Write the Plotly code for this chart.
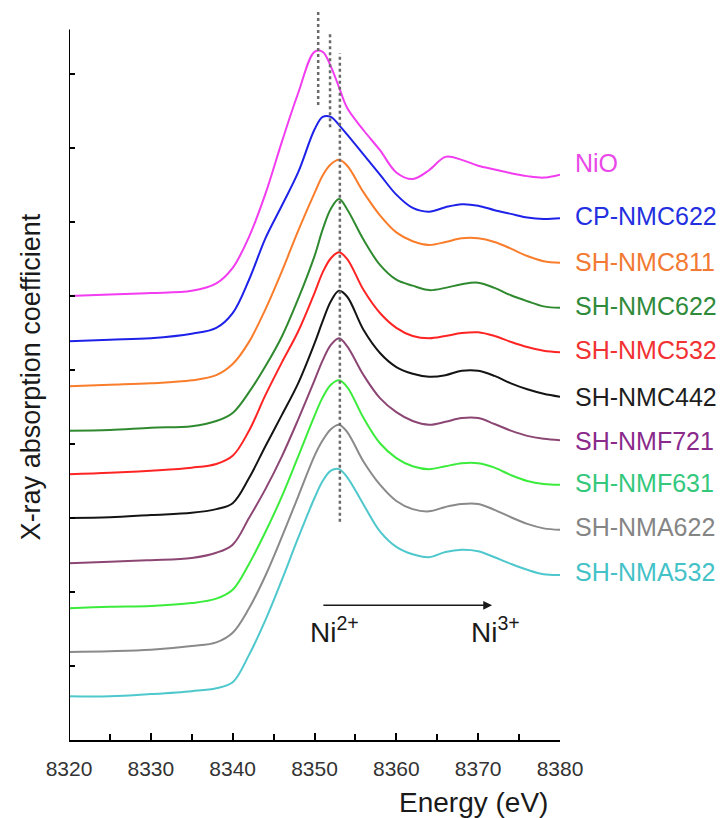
import plotly.graph_objects as go

# ---------------- data ----------------
energy = [8320, 8325, 8330, 8335, 8338, 8340, 8342, 8344, 8346, 8348, 8350, 8351, 8352, 8353,
          8354, 8356, 8358, 8360, 8362, 8364, 8366, 8368, 8370, 8372, 8374, 8376, 8378, 8380]

nio = [6.00, 6.02, 6.04, 6.07, 6.17, 6.38, 6.80, 7.38, 8.08, 8.74, 9.30, 9.30, 9.10, 8.82,
       8.54, 8.24, 7.97, 7.67, 7.58, 7.70, 7.88, 7.84, 7.76, 7.71, 7.66, 7.62, 7.60, 7.64]
cp_nmc622 = [5.39, 5.41, 5.43, 5.49, 5.57, 5.77, 6.22, 6.78, 7.22, 7.67, 8.25, 8.42, 8.42, 8.31,
             8.18, 7.91, 7.64, 7.37, 7.19, 7.14, 7.20, 7.24, 7.22, 7.16, 7.11, 7.06, 7.04, 7.05]
sh_nmc811 = [4.78, 4.80, 4.82, 4.86, 4.93, 5.08, 5.38, 5.82, 6.33, 6.88, 7.39, 7.63, 7.78, 7.84,
             7.76, 7.40, 7.09, 6.86, 6.74, 6.69, 6.73, 6.78, 6.78, 6.73, 6.64, 6.54, 6.47, 6.45]
sh_nmc622 = [4.18, 4.19, 4.22, 4.24, 4.31, 4.42, 4.70, 5.05, 5.45, 5.96, 6.54, 6.90, 7.18, 7.31,
             7.17, 6.76, 6.42, 6.22, 6.14, 6.08, 6.11, 6.16, 6.18, 6.11, 6.01, 5.93, 5.86, 5.84]
sh_nmc532 = [3.59, 3.61, 3.64, 3.68, 3.73, 3.84, 4.18, 4.66, 5.10, 5.52, 6.04, 6.32, 6.51, 6.59,
             6.50, 6.08, 5.77, 5.57, 5.46, 5.43, 5.46, 5.50, 5.51, 5.46, 5.38, 5.31, 5.26, 5.24]
sh_nmc442 = [3.00, 3.01, 3.04, 3.07, 3.12, 3.20, 3.54, 3.97, 4.39, 4.82, 5.36, 5.66, 5.93, 6.07,
             5.99, 5.54, 5.23, 5.04, 4.95, 4.91, 4.93, 4.99, 4.99, 4.92, 4.82, 4.74, 4.68, 4.64]
sh_nmf721 = [2.39, 2.41, 2.43, 2.46, 2.53, 2.64, 3.00, 3.39, 3.83, 4.33, 4.86, 5.13, 5.34, 5.43,
             5.32, 4.93, 4.62, 4.43, 4.31, 4.26, 4.30, 4.35, 4.35, 4.27, 4.18, 4.11, 4.07, 4.05]
sh_nmf631 = [1.78, 1.80, 1.81, 1.85, 1.91, 2.03, 2.38, 2.81, 3.29, 3.83, 4.38, 4.63, 4.80, 4.86,
             4.77, 4.35, 4.01, 3.81, 3.70, 3.66, 3.70, 3.74, 3.74, 3.68, 3.58, 3.50, 3.46, 3.45]
sh_nma622 = [1.19, 1.20, 1.22, 1.27, 1.32, 1.45, 1.78, 2.22, 2.74, 3.29, 3.84, 4.05, 4.20, 4.26,
             4.16, 3.76, 3.45, 3.23, 3.12, 3.09, 3.15, 3.19, 3.19, 3.11, 3.01, 2.92, 2.86, 2.84]
sh_nma532 = [0.59, 0.59, 0.62, 0.66, 0.70, 0.78, 1.15, 1.62, 2.16, 2.73, 3.27, 3.50, 3.64, 3.66,
             3.55, 3.18, 2.82, 2.61, 2.51, 2.47, 2.54, 2.57, 2.55, 2.47, 2.38, 2.30, 2.24, 2.23]

names = ["NiO", "CP-NMC622", "SH-NMC811", "SH-NMC622", "SH-NMC532",
         "SH-NMC442", "SH-NMF721", "SH-NMF631", "SH-NMA622", "SH-NMA532"]
series = [nio, cp_nmc622, sh_nmc811, sh_nmc622, sh_nmc532,
          sh_nmc442, sh_nmf721, sh_nmf631, sh_nma622, sh_nma532]

# peak reference lines: (energy, y_bottom, y_top)
peak_lines = [(8350.45, 8.58, 9.86), (8351.9, 8.28, 9.57), (8353.1, 2.95, 9.28)]

x_ticks = [8320, 8330, 8340, 8350, 8360, 8370, 8380]
y_ticks = [0, 1, 2, 3, 4, 5, 6, 7, 8, 9]

# ---------------- style ----------------
line_colors = ["#f23cf0", "#1e22e8", "#fa7d2c", "#2f8a2f", "#ff2424",
               "#141414", "#8c4673", "#3cec3c", "#8a8a8a", "#4ec8cc"]
label_colors = ["#e84ae8", "#2430e0", "#f27a32", "#2f8a3a", "#f23232",
                "#1e1e1e", "#8a2a8a", "#34c87c", "#858585", "#44c2c8"]
label_yshift = [12, 2, 1, 2, 2, 0, -1, 2, 3, 3]
FONT = "Liberation Sans, Arial, sans-serif"

fig = go.Figure()
for name, vals, col in zip(names, series, line_colors):
    fig.add_trace(go.Scatter(x=energy, y=vals, mode="lines", name=name,
                             line=dict(color=col, width=2, shape="spline", smoothing=1.0),
                             showlegend=False, hoverinfo="skip"))

for ex, y0, y1 in peak_lines:
    fig.add_shape(type="line", xref="x", yref="y", x0=ex, x1=ex, y0=y0, y1=y1,
                  line=dict(color="#6a6a6a", width=2.5, dash="dot"), layer="above")

# left spine (shorter than the plot height)
fig.add_shape(type="line", xref="x", yref="y", x0=8320, x1=8320, y0=0, y1=9.6,
              line=dict(color="black", width=2), layer="above")

# series labels
for name, vals, col, ys in zip(names, series, label_colors, label_yshift):
    fig.add_annotation(x=1.0, xref="paper", y=vals[-1], yref="y", text=name,
                       xanchor="left", yanchor="middle", xshift=13, yshift=ys,
                       showarrow=False, font=dict(family=FONT, size=25, color=col))

# arrow Ni2+ -> Ni3+
fig.add_annotation(x=8371.7, y=1.82, ax=8350.9, ay=1.82, xref="x", yref="y",
                   axref="x", ayref="y", text="", showarrow=True,
                   arrowhead=2, arrowsize=1.1, arrowwidth=1.6, arrowcolor="#1a1a1a")
fig.add_annotation(x=8352.4, y=1.49, xref="x", yref="y", text="Ni<sup>2+</sup>",
                   xanchor="center", yanchor="middle",
                   showarrow=False, font=dict(family=FONT, size=28, color="#1a1a1a"))
fig.add_annotation(x=8372.1, y=1.49, xref="x", yref="y", text="Ni<sup>3+</sup>",
                   xanchor="center", yanchor="middle",
                   showarrow=False, font=dict(family=FONT, size=28, color="#1a1a1a"))

# axis titles
fig.add_annotation(x=-0.077, y=0.497, xref="paper", yref="paper",
                   xanchor="center", yanchor="middle",
                   text="X-ray absorption coefficient", textangle=-90,
                   showarrow=False, font=dict(family=FONT, size=27, color="#1a1a1a"))
fig.add_annotation(x=0.823, y=-0.086, xref="paper", yref="paper",
                   xanchor="center", yanchor="middle",
                   text="Energy (eV)", showarrow=False,
                   font=dict(family=FONT, size=28, color="#1a1a1a"))

fig.update_layout(
    width=728, height=818,
    margin=dict(l=69, r=168, t=10, b=78),
    paper_bgcolor="white", plot_bgcolor="white",
    font=dict(family=FONT),
    xaxis=dict(range=[8320, 8380], tickvals=x_ticks, ticktext=[str(v) for v in x_ticks],
               ticks="inside", ticklen=7, tickwidth=1.5, tickcolor="black",
               minor=dict(ticks="inside", dtick=5, tick0=8320, ticklen=6,
                          tickwidth=1.5, tickcolor="black"),
               showline=True, linewidth=2, linecolor="black",
               showgrid=False, zeroline=False,
               tickfont=dict(family=FONT, size=21, color="#333"),
               ticklabelstandoff=9),
    yaxis=dict(range=[0, 9.865], tickvals=y_ticks, showticklabels=False,
               ticks="inside", ticklen=6, tickwidth=1.5, tickcolor="black",
               showline=False, showgrid=False, zeroline=False),
)

fig.write_html("out.html")
